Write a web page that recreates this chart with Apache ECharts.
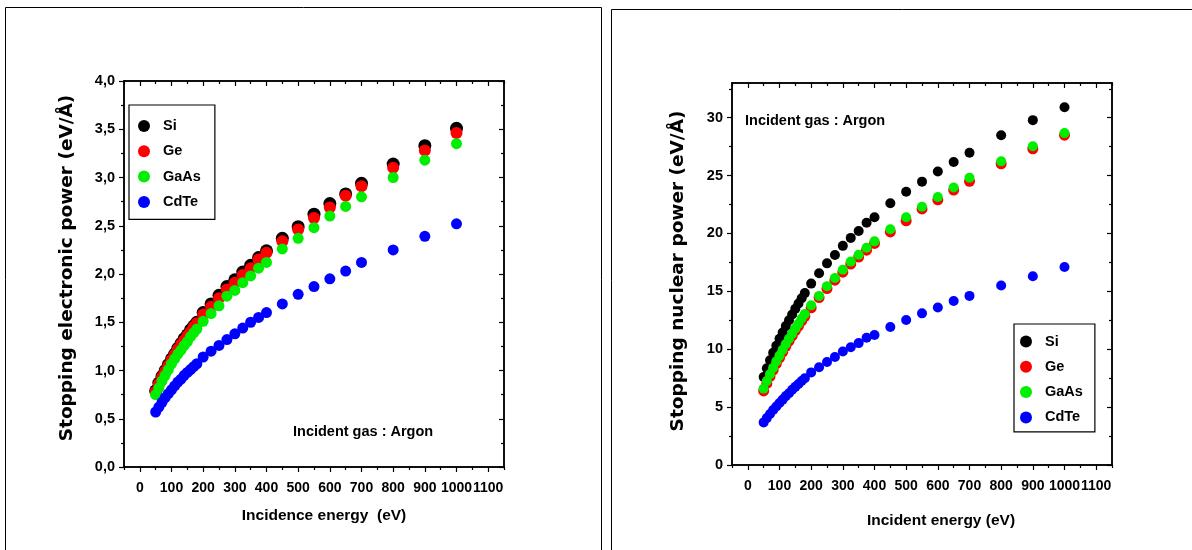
<!DOCTYPE html>
<html><head><meta charset="utf-8">
<script src="https://cdn.jsdelivr.net/npm/echarts@6/dist/echarts.min.js"></script>
<style>html,body{margin:0;padding:0;background:#fff}#c{width:1192px;height:550px}</style>
</head><body><div id="c"></div>
<script>
// Shared incidence energies (eV)
const energies = [50,60,70,80,90,100,110,120,130,140,150,160,170,180,200,225,250,275,300,325,350,375,400,450,500,550,600,650,700,800,900,1000];
const seriesNames = ['Si','Ge','GaAs','CdTe'];
// Left panel: electronic stopping power (eV/Å)
const siElec   = [0.79,0.87,0.94,1.00,1.06,1.12,1.17,1.23,1.28,1.33,1.37,1.42,1.46,1.50,1.60,1.69,1.78,1.87,1.94,2.02,2.09,2.17,2.24,2.37,2.49,2.62,2.73,2.83,2.94,3.14,3.33,3.51];
const geElec   = [0.78,0.86,0.93,0.99,1.05,1.11,1.16,1.22,1.27,1.31,1.36,1.40,1.45,1.49,1.58,1.66,1.75,1.84,1.91,1.99,2.06,2.15,2.22,2.34,2.46,2.58,2.69,2.81,2.91,3.10,3.28,3.46];
const gaasElec = [0.75,0.82,0.89,0.95,1.01,1.07,1.12,1.17,1.21,1.26,1.30,1.35,1.39,1.43,1.51,1.59,1.67,1.77,1.83,1.91,1.98,2.06,2.12,2.26,2.37,2.48,2.60,2.70,2.80,3.00,3.18,3.35];
const cdteElec = [0.57,0.62,0.67,0.72,0.76,0.80,0.84,0.88,0.91,0.95,0.98,1.01,1.04,1.07,1.14,1.20,1.26,1.32,1.38,1.44,1.50,1.55,1.60,1.69,1.79,1.87,1.95,2.03,2.12,2.25,2.39,2.52];
// Right panel: nuclear stopping power (eV/Å)
const siNuc   = [7.6,8.35,9.05,9.7,10.3,10.9,11.45,12.0,12.5,13.0,13.5,13.95,14.4,14.85,15.67,16.57,17.42,18.14,18.93,19.62,20.22,20.92,21.4,22.61,23.6,24.48,25.35,26.17,26.98,28.49,29.79,30.91];
const geNuc   = [6.4,7.05,7.65,8.2,8.75,9.25,9.75,10.25,10.7,11.15,11.6,12.0,12.45,12.85,13.58,14.46,15.24,15.97,16.66,17.36,17.96,18.56,19.14,20.13,21.1,22.12,22.91,23.75,24.51,26.02,27.32,28.49];
const gaasNuc = [6.6,7.25,7.85,8.4,8.95,9.45,9.95,10.45,10.9,11.35,11.8,12.2,12.65,13.05,13.79,14.61,15.45,16.15,16.87,17.57,18.17,18.77,19.32,20.37,21.4,22.31,23.15,23.97,24.81,26.23,27.53,28.67];
const cdteNuc = [3.68,4.05,4.4,4.75,5.05,5.35,5.65,5.95,6.2,6.5,6.75,7.0,7.25,7.5,8.0,8.45,8.9,9.33,9.81,10.17,10.53,10.99,11.23,11.92,12.53,13.1,13.61,14.16,14.61,15.51,16.3,17.11];
// Tick values
const xMajorTicks = [0,100,200,300,400,500,600,700,800,900,1000,1100];
const xMinorTicks = [-50,50,150,250,350,450,550,650,750,850,950,1050,1150];
const yElecMajor = [0,0.5,1,1.5,2,2.5,3,3.5,4];
const yElecMinor = [0.25,0.75,1.25,1.75,2.25,2.75,3.25,3.75];
const yNucMajor = [0,5,10,15,20,25,30];
const yNucMinor = [2.5,7.5,12.5,17.5,22.5,27.5,32.5];

const colors = ['#000000','#ff0000','#00ee00','#0000ff'];
const NARROW = '"Liberation Sans",Arial,sans-serif';
const WIDE = '"DejaVu Sans",Verdana,sans-serif';

function makeX(grid, pos, ticks, len, inside, labels, name, nameGap, shift) {
  return {
    type:'value', gridIndex:grid, position:pos, min:-50, max:1150,
    axisLine:{show:true, onZero:false, lineStyle:{color:'#000', width:1.5}},
    axisTick:{show:true, inside:inside, length:len, customValues:ticks, lineStyle:{color:'#000', width:1.2}},
    axisLabel:{show:labels, customValues:ticks, formatter:v=>String(v), color:'#000', fontFamily:NARROW, fontWeight:'bold', fontSize:14, margin:14, hideOverlap:false, showMinLabel:true, showMaxLabel:true},
    splitLine:{show:false},
    name: name || '', nameLocation:'middle', nameGap: nameGap || 0,
    nameTextStyle:{color:'#000', fontFamily:NARROW, fontWeight:'bold', fontSize:15.5, padding:[0,0,0,shift||0]}
  };
}
function makeY(grid, pos, min, max, ticks, len, inside, labels, fmt, name, nameGap, shift) {
  return {
    type:'value', gridIndex:grid, position:pos, min:min, max:max,
    axisLine:{show:true, onZero:false, lineStyle:{color:'#000', width:1.5}},
    axisTick:{show:true, inside:inside, length:len, customValues:ticks, lineStyle:{color:'#000', width:1.2}},
    axisLabel:{show:labels, customValues:ticks, formatter:fmt, color:'#000', fontFamily:NARROW, fontWeight:'bold', fontSize:14.5, margin:9, hideOverlap:false},
    splitLine:{show:false},
    name: name || '', nameLocation:'middle', nameGap: nameGap || 0, nameRotate:90,
    nameTextStyle:{color:'#000', fontFamily:WIDE, fontWeight:'bold', fontSize:18.5, padding:[0,0,0,shift||0]}
  };
}
const commaFmt = v => v.toFixed(1).replace('.', ',');

const xAxes = [
  makeX(0,'bottom',xMajorTicks,5,false,true,'Incidence energy  (eV)',41,20),
  makeX(0,'bottom',xMinorTicks,3,false,false),
  makeX(0,'top',xMajorTicks,5,true,false),
  makeX(0,'top',xMinorTicks,3,true,false),
  makeX(1,'bottom',xMajorTicks,5,false,true,'Incident energy (eV)',48,38),
  makeX(1,'bottom',xMinorTicks,3,false,false),
  makeX(1,'top',xMajorTicks,5,true,false),
  makeX(1,'top',xMinorTicks,3,true,false)
];
const yAxes = [
  makeY(0,'left',0,4,yElecMajor,5,false,true,commaFmt,'Stopping electronic power (eV/Å)',47,12),
  makeY(0,'left',0,4,yElecMinor,3,false,false),
  makeY(0,'right',0,4,yElecMajor,5,true,false),
  makeY(0,'right',0,4,yElecMinor,3,true,false),
  makeY(1,'left',0,33,yNucMajor,5,false,true,v=>String(v),'Stopping nuclear power (eV/Å)',44,6),
  makeY(1,'left',0,33,yNucMinor,3,false,false),
  makeY(1,'right',0,33,yNucMajor,5,true,false),
  makeY(1,'right',0,33,yNucMinor,3,true,false)
];

function pairs(vals){ return energies.map((e,i)=>[e, vals[i]]); }
const elecData = [siElec, geElec, gaasElec, cdteElec];
const nucData = [siNuc, geNuc, gaasNuc, cdteNuc];
const elecSizes = [13,12,11,11];
const nucSizes = [10,11,10,10];
const series = [];
seriesNames.forEach((n,i)=>{
  series.push({type:'scatter', name:n, xAxisIndex:0, yAxisIndex:0, data:pairs(elecData[i]),
    symbol:'circle', symbolSize:elecSizes[i], itemStyle:{color:colors[i], opacity:1}, z:2+i, silent:true});
});
seriesNames.forEach((n,i)=>{
  series.push({type:'scatter', name:n, xAxisIndex:4, yAxisIndex:4, data:pairs(nucData[i]),
    symbol:'circle', symbolSize:nucSizes[i], itemStyle:{color:colors[i], opacity:1}, z:2+i, silent:true});
});

const legendCommon = {
  orient:'vertical', data:seriesNames, icon:'circle', itemWidth:28, itemHeight:12, itemGap:10.3,
  borderColor:'#000', borderWidth:1.2, backgroundColor:'#fff', selectedMode:false,
  textStyle:{color:'#000', fontFamily:NARROW, fontWeight:'bold', fontSize:14.5}
};

const chart = echarts.init(document.getElementById('c'), null, {renderer:'canvas'});
chart.setOption({
  animation:false,
  backgroundColor:'#fff',
  grid:[
    {left:124, right:688, top:81, bottom:83},
    {left:732, right:80, top:83, bottom:85}
  ],
  xAxis:xAxes, yAxis:yAxes, series:series,
  legend:[
    Object.assign({}, legendCommon, {left:129, top:105, padding:[13.5,14,10,9]}),
    Object.assign({}, legendCommon, {left:1014, top:324, padding:[10,12,7,6]})
  ],
  graphic:[
    {type:'rect', shape:{x:5.5, y:7.5, width:596, height:560}, style:{fill:'none', stroke:'#000', lineWidth:1}, z:-10, silent:true},
    {type:'rect', shape:{x:611.5, y:9.5, width:600, height:560}, style:{fill:'none', stroke:'#000', lineWidth:1}, z:-10, silent:true},
    {type:'text', left:293, top:424, style:{text:'Incident gas : Argon', fill:'#000', font:'bold 14.5px '+NARROW}, silent:true},
    {type:'text', left:745, top:113, style:{text:'Incident gas : Argon', fill:'#000', font:'bold 14.5px '+NARROW}, silent:true}
  ]
});
</script>
</body></html>
